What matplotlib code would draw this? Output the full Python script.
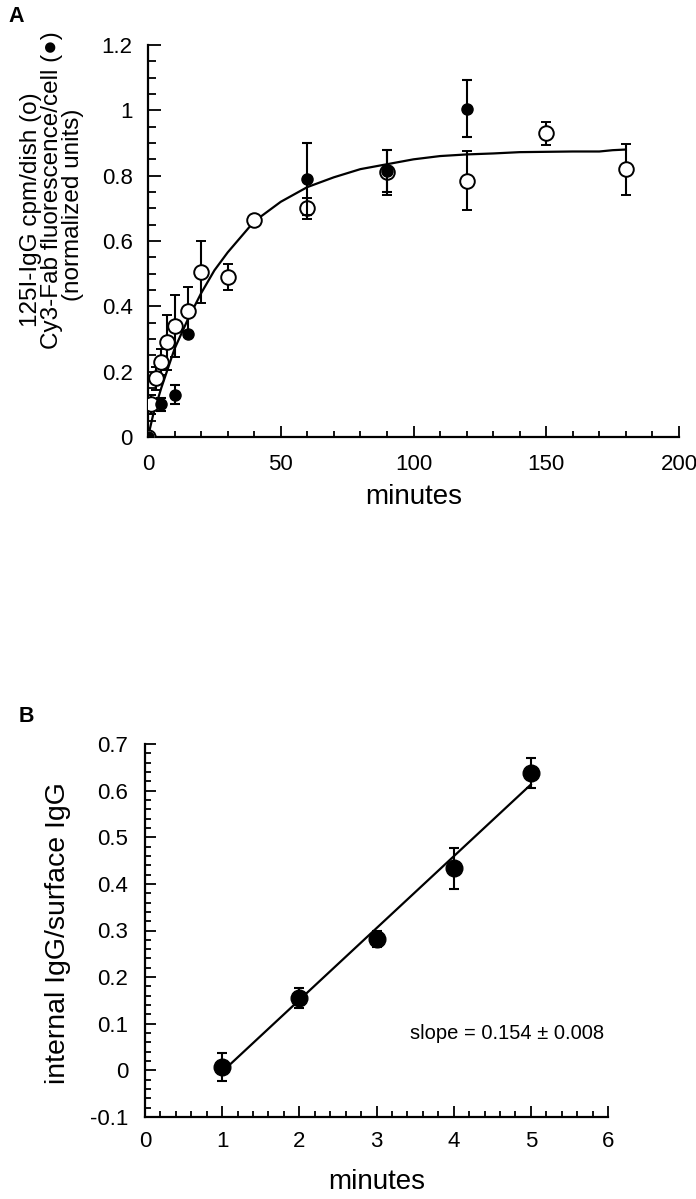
import matplotlib
matplotlib.use("Agg")
import matplotlib.pyplot as plt
from matplotlib.ticker import MultipleLocator

plt.rcParams['font.family'] = ['Liberation Sans', 'DejaVu Sans']

# panel A - open circles (125I-IgG)
open_x = [0, 1, 3, 5, 7, 10, 15, 20, 30, 40, 60, 90, 120, 150, 180]
open_y = [0, 0.10, 0.18, 0.23, 0.29, 0.34, 0.385, 0.505, 0.49, 0.665, 0.70, 0.81, 0.785, 0.93, 0.82]
open_err = [0, 0.03, 0.035, 0.04, 0.085, 0.095, 0.075, 0.095, 0.04, 0.01, 0.033, 0.07, 0.09, 0.035, 0.078]

# panel A - filled circles (Cy3-Fab)
fill_x = [0, 5, 10, 15, 60, 90, 120]
fill_y = [0, 0.10, 0.13, 0.315, 0.79, 0.815, 1.005]
fill_err = [0, 0.02, 0.03, 0.01, 0.11, 0.065, 0.087]

# fitted curve
curve_x = [0, 2, 5, 10, 15, 20, 25, 30, 40, 50, 60, 70, 80, 90, 100, 110, 120,
           130, 140, 150, 160, 170, 175, 180]
curve_y = [0, 0.07, 0.15, 0.27, 0.36, 0.44, 0.51, 0.565, 0.66, 0.72, 0.765, 0.795,
           0.82, 0.835, 0.85, 0.86, 0.865, 0.868, 0.872, 0.873, 0.874, 0.874, 0.878, 0.88]

# panel B
b_x = [1, 2, 3, 4, 5]
b_y = [0.007, 0.155, 0.282, 0.433, 0.638]
b_err = [0.03, 0.021, 0.018, 0.043, 0.033]
b_line_x = [1, 5]
b_line_y = [-0.003, 0.613]

W, H = 696, 1199
fig = plt.figure(figsize=(W / 100, H / 100), dpi=100)

def style_axes(ax, xlen, ylen, xpad, ypad):
    ax.spines['top'].set_visible(False)
    ax.spines['right'].set_visible(False)
    ax.spines['left'].set_linewidth(1.6)
    ax.spines['bottom'].set_linewidth(1.6)
    ax.tick_params(which='both', direction='in', width=1.3, labelsize=16)
    ax.tick_params(axis='x', which='major', length=xlen[0], pad=xpad)
    ax.tick_params(axis='x', which='minor', length=xlen[1])
    ax.tick_params(axis='y', which='major', length=ylen[0], pad=ypad)
    ax.tick_params(axis='y', which='minor', length=ylen[1])

# ---- panel A
axA = fig.add_axes([148 / W, 1 - 437 / H, 531 / W, 392 / H])
axA.plot(curve_x, curve_y, color='black', lw=1.6, zorder=2)
axA.errorbar(open_x, open_y, yerr=open_err, fmt='o', ms=10.5, mfc='white', mec='black',
             mew=1.4, ecolor='black', elinewidth=1.5, capsize=3.5, capthick=1.5, zorder=3)
axA.errorbar(fill_x, fill_y, yerr=fill_err, fmt='o', ms=8, mfc='black', mec='black',
             ecolor='black', elinewidth=1.5, capsize=3.5, capthick=1.5, zorder=4)
axA.set_xlim(0, 200)
axA.set_ylim(0, 1.2)
axA.xaxis.set_major_locator(MultipleLocator(50))
axA.xaxis.set_minor_locator(MultipleLocator(10))
axA.yaxis.set_minor_locator(MultipleLocator(0.05))
axA.set_yticks([0, 0.2, 0.4, 0.6, 0.8, 1, 1.2])
axA.set_yticklabels(['0', '0.2', '0.4', '0.6', '0.8', '1', '1.2'])
style_axes(axA, (8, 4), (9, 6), 12.5, 11)
for sp in axA.spines.values():
    sp.set_clip_on(False)
axA.set_xlabel('minutes', fontsize=20, labelpad=6)
ylabA = ['125I-IgG cpm/dish (o)', 'Cy3-Fab fluorescence/cell (\u25cf)', '(normalized units)']
for txt, px, py in zip(ylabA, [31, 52, 73], [210, 190, 205]):
    fig.text(px / W, 1 - py / H, txt, rotation=90, ha='center', va='center', fontsize=17.5)
fig.text(16 / W, 1 - 17 / H, 'A', fontsize=15.5, fontweight='bold', ha='center', va='center')

# ---- panel B
axB = fig.add_axes([145 / W, 1 - 1117 / H, 463 / W, 373 / H])
axB.plot(b_line_x, b_line_y, color='black', lw=1.6, zorder=2)
axB.errorbar(b_x, b_y, yerr=b_err, fmt='o', ms=12, mfc='black', mec='black',
             ecolor='black', elinewidth=1.5, capsize=3.5, capthick=1.5, zorder=3)
axB.set_xlim(0, 6)
axB.set_ylim(-0.1, 0.7)
axB.xaxis.set_major_locator(MultipleLocator(1))
axB.xaxis.set_minor_locator(MultipleLocator(0.2))
axB.yaxis.set_minor_locator(MultipleLocator(0.02))
axB.set_yticks([-0.1, 0, 0.1, 0.2, 0.3, 0.4, 0.5, 0.6, 0.7])
axB.set_yticklabels(['-0.1', '0', '0.1', '0.2', '0.3', '0.4', '0.5', '0.6', '0.7'])
style_axes(axB, (8, 4), (8, 4.5), 10, 12)
axB.set_xlabel('minutes', fontsize=20, labelpad=12)
fig.text(58 / W, 1 - 933 / H, 'internal IgG/surface IgG', rotation=90,
         ha='center', va='center', fontsize=20.5)
axB.text(3.43, 0.08, 'slope = 0.154 \u00b1 0.008', fontsize=14.5, va='center', ha='left')
fig.text(26 / W, 1 - 717 / H, 'B', fontsize=15.5, fontweight='bold', ha='center', va='center')

fig.savefig('out.png', dpi=100)
